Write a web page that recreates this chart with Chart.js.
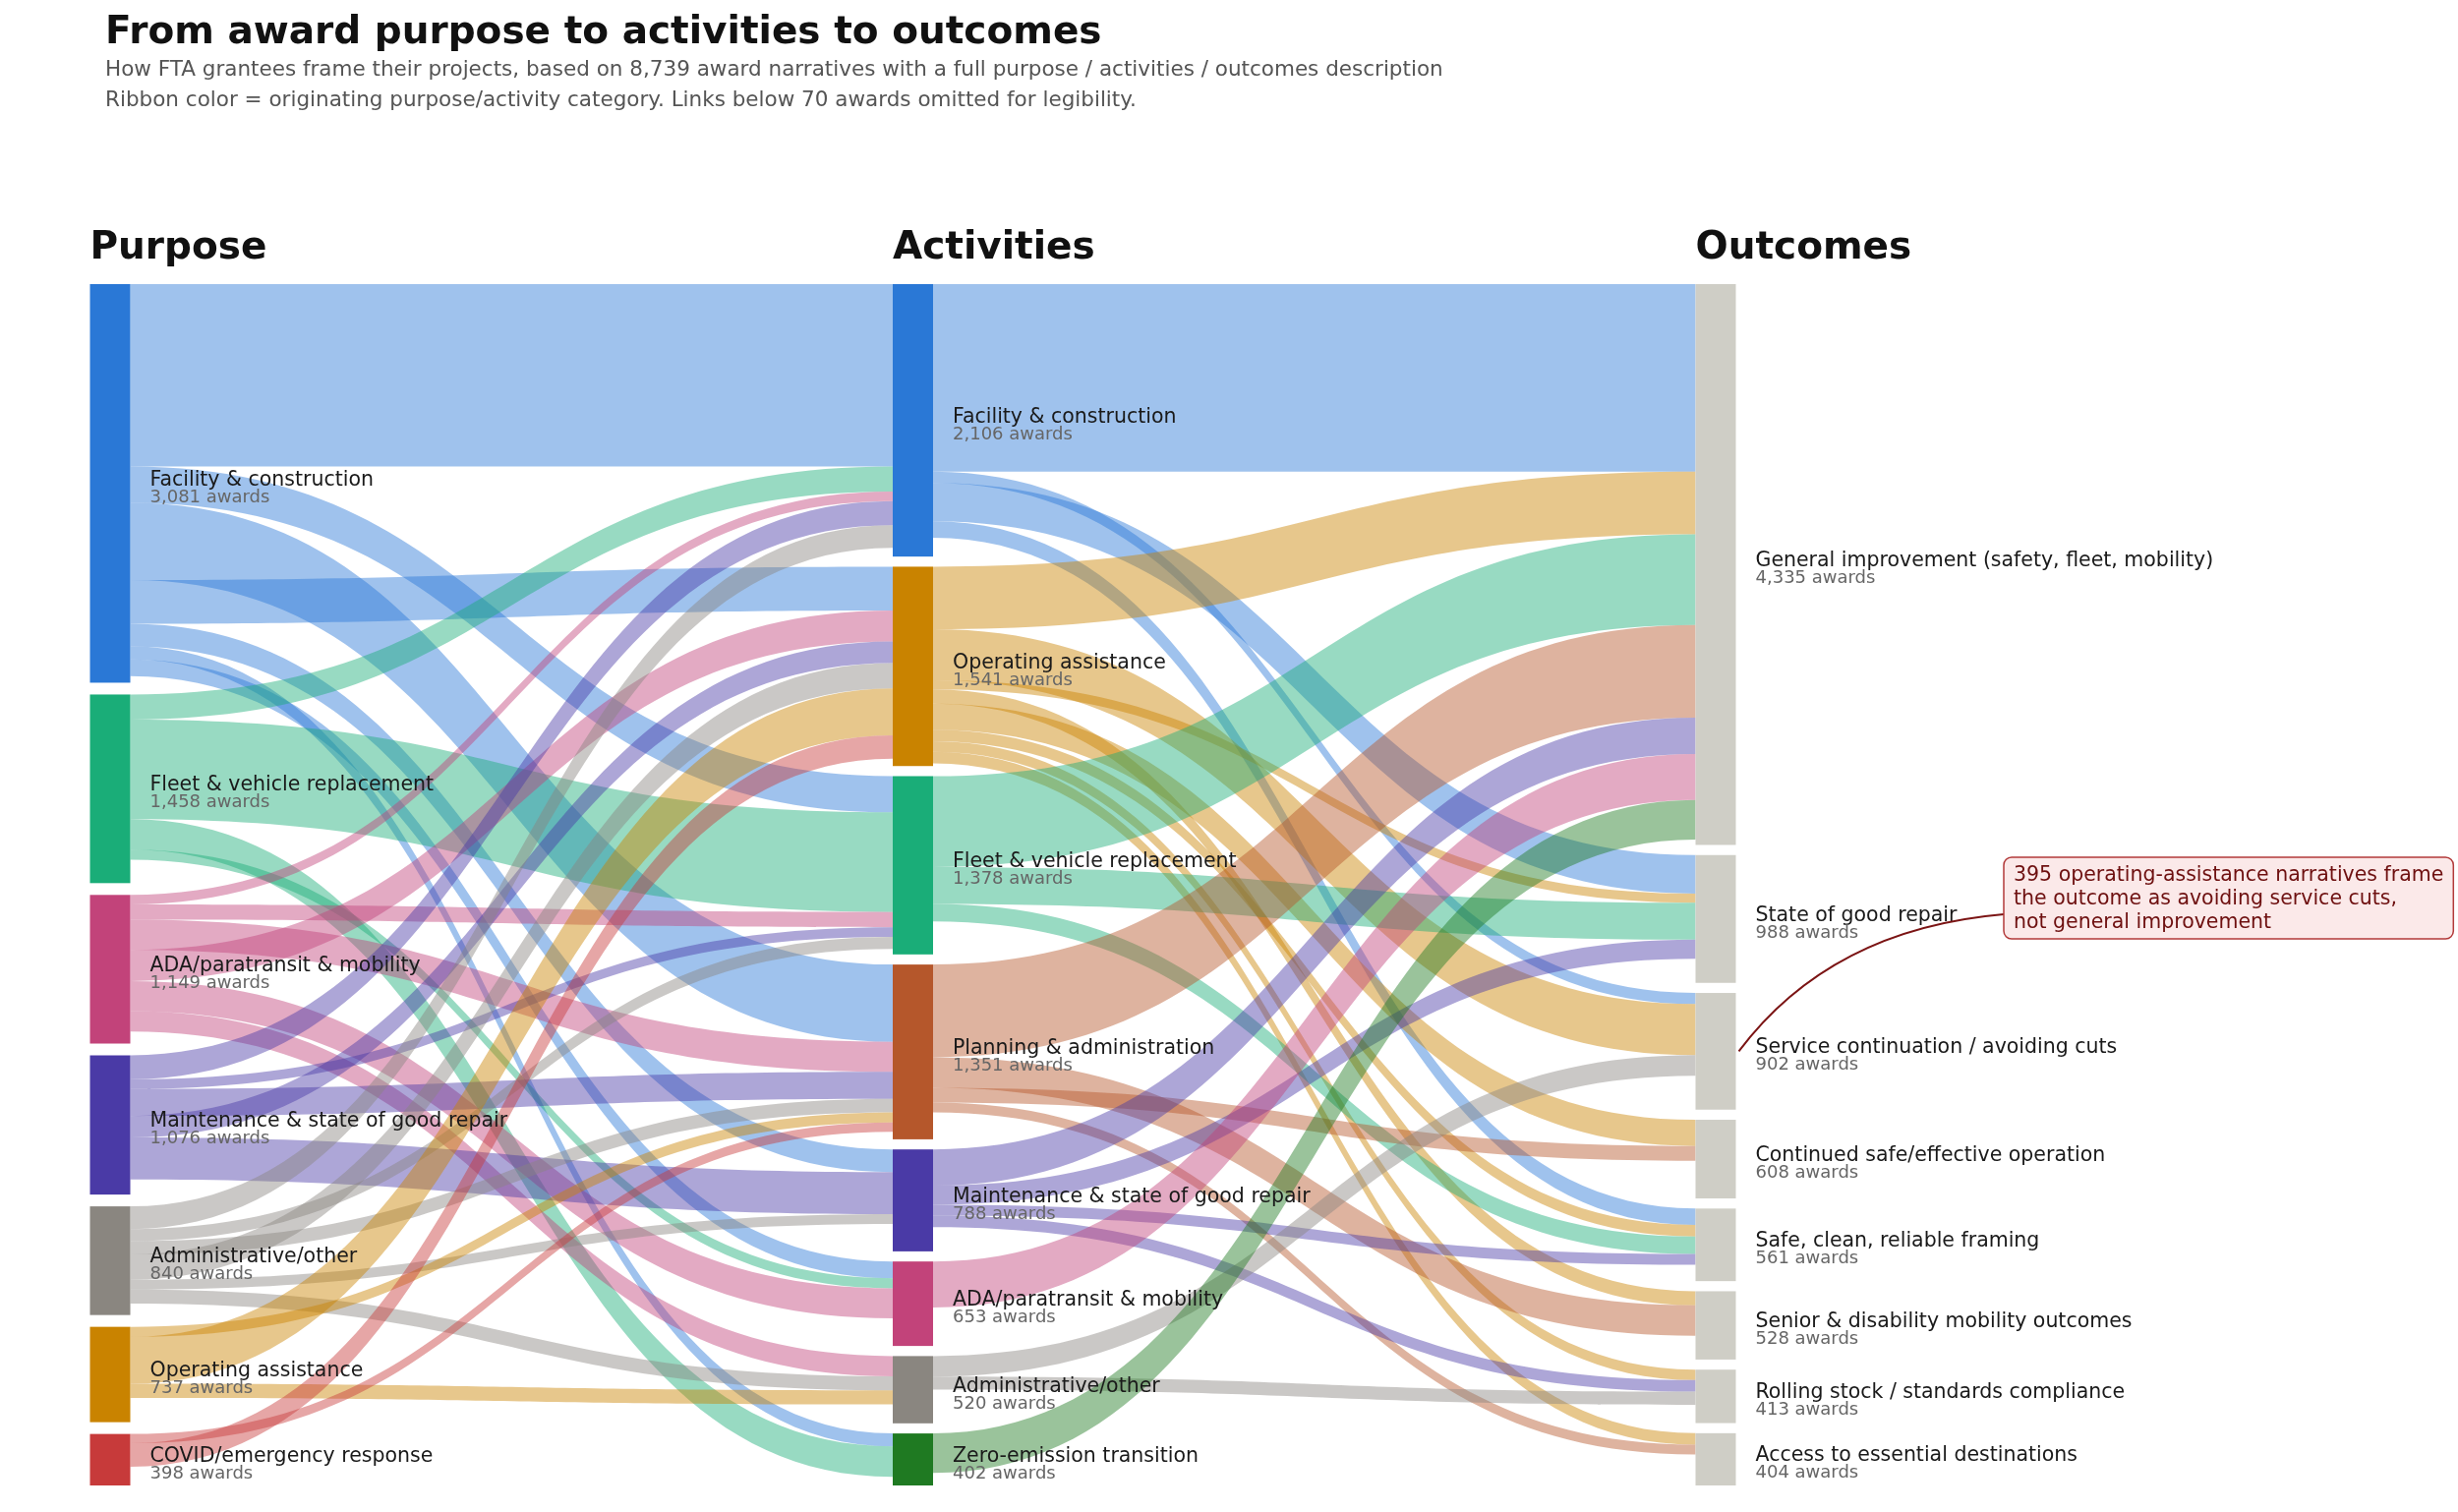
<!DOCTYPE html>
<html>
<head>
<meta charset="utf-8">
<title>From award purpose to activities to outcomes</title>
<script src="https://cdn.jsdelivr.net/npm/chart.js@4.4.0/dist/chart.umd.min.js"></script>
<style>
  html, body { margin: 0; padding: 0; background: #fff; }
</style>
</head>
<body>
<canvas id="sankey" width="2500" height="1538"></canvas>
<script>
// ------------------------------------------------------------
// Data: three columns of categories, plus the two link tables
// ------------------------------------------------------------
const purposeLabels = ['Facility & construction', 'Fleet & vehicle replacement', 'ADA/paratransit & mobility',
  'Maintenance & state of good repair', 'Administrative/other', 'Operating assistance', 'COVID/emergency response'];
const purposeAwards = [3081, 1458, 1149, 1076, 840, 737, 398];

const activityLabels = ['Facility & construction', 'Operating assistance', 'Fleet & vehicle replacement',
  'Planning & administration', 'Maintenance & state of good repair', 'ADA/paratransit & mobility',
  'Administrative/other', 'Zero-emission transition'];
const activityAwards = [2106, 1541, 1378, 1351, 788, 653, 520, 402];

const outcomeLabels = ['General improvement (safety, fleet, mobility)', 'State of good repair',
  'Service continuation / avoiding cuts', 'Continued safe/effective operation', 'Safe, clean, reliable framing',
  'Senior & disability mobility outcomes', 'Rolling stock / standards compliance', 'Access to essential destinations'];
const outcomeAwards = [4335, 988, 902, 608, 561, 528, 413, 404];

// purpose -> activity (indices into the lists above), in stacking order at the source node
const paFrom   = [0, 0, 0, 0, 0, 0, 0,   1, 1, 1, 1,   2, 2, 2, 2, 2, 2,   3, 3, 3, 3, 3,   4, 4, 4, 4, 4, 4,   5, 5, 5,   6, 6];
const paTo     = [0, 2, 3, 1, 4, 7, 5,   0, 2, 7, 5,   0, 2, 3, 1, 5, 6,   0, 2, 3, 1, 4,   0, 2, 3, 1, 4, 6,   3, 1, 6,   3, 1];
const paAwards = [1410, 280, 597, 338, 176, 100, 130,   194, 770, 236, 77,   74, 118, 233, 241, 233, 156,
                  185, 75, 209, 166, 325,   176, 93, 103, 196, 75, 109,   78, 362, 109,   72, 181];

// activity -> outcome
const aoFrom   = [0, 0, 0, 0,   1, 1, 1, 1, 1, 1, 1, 1,   2, 2, 2,   3, 3, 3, 3,   4, 4, 4, 4,   5,   6, 6,   7];
const aoTo     = [0, 2, 1, 4,   0, 2, 1, 5, 3, 4, 6, 7,   0, 1, 4,   0, 5, 3, 7,   0, 1, 4, 6,   0,   2, 6,   0];
const aoAwards = [1450, 86, 298, 127,   483, 395, 71, 109, 203, 89, 81, 89,   702, 285, 135,   717, 236, 114, 76,
                  280, 147, 84, 89,   356,   158, 102,   305];

// ------------------------------------------------------------
// Styling
// ------------------------------------------------------------
const purposeColors  = ['#2a78d6', '#1aad78', '#c2437a', '#4a3aa6', '#8a8680', '#c98300', '#c73a3a'];
const activityColors = ['#2a78d6', '#c98300', '#1aad78', '#b5572b', '#4a3aa6', '#c2437a', '#8a8680', '#1f7a22'];
const outcomeColor   = '#cfcec6';
const RIBBON_ALPHA   = 0.45;
const NODE_W = 41;
const SPAN   = 9286;          // vertical extent of a column, in awards (values + gaps)
const FONT   = "'DejaVu Sans', 'Liberation Sans', sans-serif";

function hexToRgba(hex, a) {
  const n = parseInt(hex.slice(1), 16);
  return `rgba(${(n >> 16) & 255},${(n >> 8) & 255},${n & 255},${a})`;
}

// stack a column's nodes from the top, spreading leftover space into equal gaps
function stackColumn(values) {
  const total = values.reduce((a, b) => a + b, 0);
  const gap = (SPAN - total) / (values.length - 1);
  let y = 0;
  return values.map(v => {
    const node = { y0: y, y1: y + v };
    y += v + gap;
    return node;
  });
}

function layoutLinks(from, to, vals, srcNodes, tgtNodes) {
  const srcCur = srcNodes.map(n => n.y0);
  const tgtCur = tgtNodes.map(n => n.y0);
  const links = from.map((s, i) => {
    const l = { s, t: to[i], v: vals[i], sy0: srcCur[s] };
    srcCur[s] += vals[i];
    return l;
  });
  // at the target, ribbons stack in the order of their source nodes
  links.map((_, i) => i)
    .sort((a, b) => links[a].s - links[b].s || a - b)
    .forEach(i => {
      links[i].ty0 = tgtCur[links[i].t];
      tgtCur[links[i].t] += links[i].v;
    });
  return links;
}

const purposeNodes  = stackColumn(purposeAwards);
const activityNodes = stackColumn(activityAwards);
const outcomeNodes  = stackColumn(outcomeAwards);
const paLinks = layoutLinks(paFrom, paTo, paAwards, purposeNodes, activityNodes);
const aoLinks = layoutLinks(aoFrom, aoTo, aoAwards, activityNodes, outcomeNodes);

const columns = [
  { title: 'Purpose',    labels: purposeLabels,  nodes: purposeNodes,  colors: purposeColors },
  { title: 'Activities', labels: activityLabels, nodes: activityNodes, colors: activityColors },
  { title: 'Outcomes',   labels: outcomeLabels,  nodes: outcomeNodes,  colors: outcomeLabels.map(() => outcomeColor) },
];

function drawRibbon(ctx, x, y, col, l, color) {
  const x0 = x.getPixelForValue(col) + NODE_W;
  const x1 = x.getPixelForValue(col + 1);
  const xm = (x0 + x1) / 2;
  const a0 = y.getPixelForValue(l.sy0), a1 = y.getPixelForValue(l.sy0 + l.v);
  const b0 = y.getPixelForValue(l.ty0), b1 = y.getPixelForValue(l.ty0 + l.v);
  ctx.beginPath();
  ctx.moveTo(x0, a0);
  ctx.bezierCurveTo(xm, a0, xm, b0, x1, b0);
  ctx.lineTo(x1, b1);
  ctx.bezierCurveTo(xm, b1, xm, a1, x0, a1);
  ctx.closePath();
  ctx.fillStyle = hexToRgba(color, RIBBON_ALPHA);
  ctx.fill();
}

const sankeyPlugin = {
  id: 'sankey',
  afterDatasetsDraw(chart) {
    const { ctx, scales: { x, y } } = chart;
    ctx.save();

    // ribbons, coloured by the originating node
    paLinks.forEach(l => drawRibbon(ctx, x, y, 0, l, purposeColors[l.s]));
    aoLinks.forEach(l => drawRibbon(ctx, x, y, 1, l, activityColors[l.s]));

    // nodes + labels
    columns.forEach((c, ci) => {
      const px = x.getPixelForValue(ci);
      ctx.font = `bold 39px ${FONT}`;
      ctx.fillStyle = '#111';
      ctx.textBaseline = 'alphabetic';
      ctx.fillText(c.title, px, 263);

      c.nodes.forEach((n, i) => {
        const top = y.getPixelForValue(n.y0), bot = y.getPixelForValue(n.y1);
        ctx.fillStyle = c.colors[i];
        ctx.fillRect(px, top, NODE_W, bot - top);
        const mid = (top + bot) / 2;
        ctx.fillStyle = '#1a1a1a';
        ctx.font = `20.5px ${FONT}`;
        ctx.fillText(c.labels[i], px + NODE_W + 20, mid + 2);
        ctx.fillStyle = '#666';
        ctx.font = `18px ${FONT}`;
        ctx.fillText((n.y1 - n.y0).toLocaleString('en-US') + ' awards', px + NODE_W + 20, mid + 19);
      });
    });

    // title block
    ctx.fillStyle = '#111';
    ctx.font = `bold 39px ${FONT}`;
    ctx.fillText('From award purpose to activities to outcomes', 107, 44);
    ctx.fillStyle = '#555';
    ctx.font = `21.5px ${FONT}`;
    ctx.fillText('How FTA grantees frame their projects, based on 8,739 award narratives with a full purpose / activities / outcomes description', 107, 77);
    ctx.fillText('Ribbon color = originating purpose/activity category. Links below 70 awards omitted for legibility.', 107, 108);

    // annotation on "Service continuation / avoiding cuts"
    const svc = outcomeNodes[2];
    const ax = x.getPixelForValue(2) + NODE_W + 3;
    const ay = y.getPixelForValue((svc.y0 + svc.y1) / 2);
    const bx = 2038, by = 872, bh = 83;
    ctx.strokeStyle = '#7b1414';
    ctx.lineWidth = 2;
    ctx.beginPath();
    ctx.moveTo(ax, ay);
    ctx.quadraticCurveTo(1862, 945, bx, 930);
    ctx.stroke();

    const note = ['395 operating-assistance narratives frame', 'the outcome as avoiding service cuts,', 'not general improvement'];
    ctx.font = `20.5px ${FONT}`;
    const bw = Math.max(...note.map(t => ctx.measureText(t).width)) + 20;
    ctx.beginPath();
    ctx.roundRect(bx, by, bw, bh, 8);
    ctx.fillStyle = '#fbe9e9';
    ctx.fill();
    ctx.strokeStyle = '#b23a3a';
    ctx.lineWidth = 1.5;
    ctx.stroke();
    ctx.fillStyle = '#6e1010';
    note.forEach((t, i) => ctx.fillText(t, bx + 10, by + 24 + i * 24));

    ctx.restore();
  }
};

new Chart(document.getElementById('sankey'), {
  type: 'scatter',
  data: { datasets: [] },
  options: {
    responsive: false,
    animation: false,
    layout: { padding: { left: 91.5, right: 775.5, top: 289, bottom: 27 } },
    plugins: { legend: { display: false }, tooltip: { enabled: false } },
    scales: {
      x: { type: 'linear', min: 0, max: 2, display: false },
      y: { type: 'linear', min: 0, max: SPAN, reverse: true, display: false }
    }
  },
  plugins: [sankeyPlugin]
});
</script>
</body>
</html>
